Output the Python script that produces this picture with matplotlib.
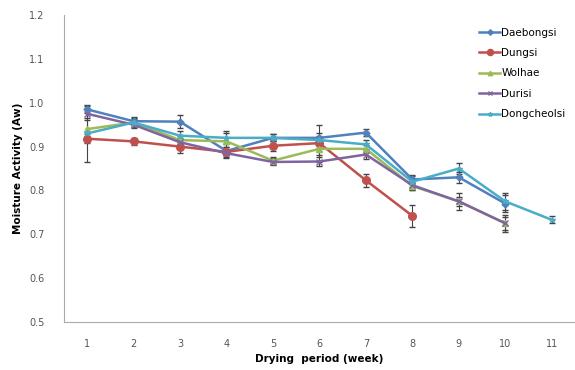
import numpy as np
import matplotlib.pyplot as plt

weeks = np.arange(1, 12)

daebongsi = [0.985, 0.958, 0.957, 0.890, 0.920, 0.920, 0.932, 0.825, 0.830, 0.770]
daebongsi_err = [0.008, 0.010, 0.015, 0.010, 0.008, 0.010, 0.008, 0.010, 0.012, 0.020]

dungsi = [0.918, 0.912, 0.900, 0.888, 0.902, 0.908, 0.823, 0.742]
dungsi_err = [0.010, 0.008, 0.015, 0.012, 0.012, 0.010, 0.015, 0.025]

wolhae = [0.940, 0.955, 0.915, 0.912, 0.868, 0.895, 0.895, 0.810, 0.775, 0.725]
wolhae_err = [0.020, 0.008, 0.010, 0.020, 0.008, 0.030, 0.008, 0.008, 0.020, 0.015]

durisi = [0.975, 0.950, 0.910, 0.885, 0.865, 0.866, 0.882, 0.812, 0.775, 0.725]
durisi_err = [0.010, 0.008, 0.010, 0.010, 0.008, 0.010, 0.010, 0.010, 0.010, 0.020]

dongcheolsi = [0.930, 0.955, 0.925, 0.920, 0.920, 0.915, 0.905, 0.820, 0.850, 0.775, 0.733]
dongcheolsi_err = [0.065, 0.010, 0.010, 0.015, 0.008, 0.035, 0.010, 0.012, 0.012, 0.020, 0.008]

series = [
    ("Daebongsi", daebongsi, daebongsi_err, "#4F81BD", "D", 3.5),
    ("Dungsi", dungsi, dungsi_err, "#C0504D", "o", 5.5),
    ("Wolhae", wolhae, wolhae_err, "#9BBB59", "^", 4),
    ("Durisi", durisi, durisi_err, "#8064A2", "x", 4),
    ("Dongcheolsi", dongcheolsi, dongcheolsi_err, "#4BACC6", "*", 4),
]

fig = plt.figure(figsize=(5.75, 3.7), dpi=100)
ax = fig.add_axes([0.111, 0.13, 0.889, 0.829])

handles = []
for name, vals, errs, col, mk, ms in series:
    n = len(vals)
    cont = ax.errorbar(weeks[:n], vals, yerr=errs, color=col, marker=mk, markersize=ms,
                       linewidth=1.8, ecolor="#444444", elinewidth=0.8, capsize=2.5,
                       label=name)
    handles.append(cont.lines[0])

ax.set_xlim(0.5, 11.5)
ax.set_ylim(0.5, 1.2)
ax.set_xticks(weeks)
ax.set_yticks(np.arange(0.5, 1.21, 0.1))
ax.set_yticklabels([f"{v:.1f}" for v in np.arange(0.5, 1.21, 0.1)])
ax.tick_params(length=0, labelsize=7, colors="#555555", pad=12)
ax.tick_params(axis="y", pad=14)

for s in ["top", "right"]:
    ax.spines[s].set_visible(False)
for s in ["left", "bottom"]:
    ax.spines[s].set_color("#aaaaaa")

ax.set_xlabel("Drying  period (week)", fontsize=7.5, fontweight="bold", labelpad=4)
ax.set_ylabel("Moisture Activity (Aw)", fontsize=7.5, fontweight="bold", labelpad=4)

ax.legend(handles, [s[0] for s in series], loc="upper right",
          bbox_to_anchor=(1.0, 0.99), frameon=False, fontsize=7.5,
          handlelength=2.0, handletextpad=0.1, labelspacing=1.0, markerscale=0.8)

fig.savefig("out.png", dpi=100)
